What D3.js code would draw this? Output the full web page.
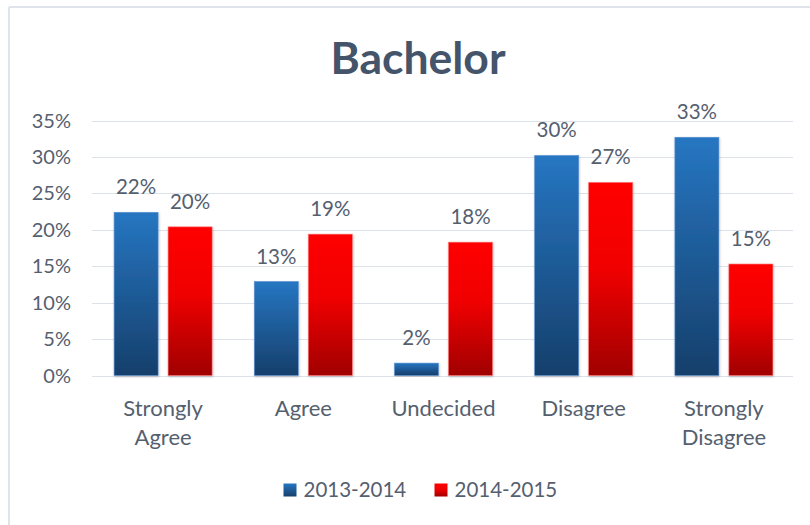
<!DOCTYPE html>
<html>
<head>
<meta charset="utf-8">
<script src="https://cdn.jsdelivr.net/npm/d3@7"></script>
<style>
  html, body { margin: 0; padding: 0; background: #fff; }
  svg { display: block; }
  text { font-family: Lato, "Open Sans", sans-serif; }
</style>
</head>
<body>
<script>
const categories = [["Strongly", "Agree"], ["Agree"], ["Undecided"], ["Disagree"], ["Strongly", "Disagree"]];
const series = ["2013-2014", "2014-2015"];
const values2013 = [22.4, 12.9, 1.7, 30.2, 32.7];
const values2014 = [20.4, 19.4, 18.3, 26.5, 15.3];
const labels2013 = ["22%", "13%", "2%", "30%", "33%"];
const labels2014 = ["20%", "19%", "18%", "27%", "15%"];
const yTicks = [0, 5, 10, 15, 20, 25, 30, 35];
const title = "Bachelor";

const W = 810, H = 525;
const textColor = "#55606f";
const margin = { left: 92, right: 17, top: 120.5, bottom: 149.5 };

const svg = d3.select("body").append("svg").attr("width", W).attr("height", H);

// gradients
const defs = svg.append("defs");
const gBlue = defs.append("linearGradient").attr("id", "gBlue").attr("x1", 0).attr("y1", 0).attr("x2", 0).attr("y2", 1);
gBlue.append("stop").attr("offset", "0%").attr("stop-color", "#2676c2");
gBlue.append("stop").attr("offset", "100%").attr("stop-color", "#163f6b");
const gRed = defs.append("linearGradient").attr("id", "gRed").attr("x1", 0).attr("y1", 0).attr("x2", 0).attr("y2", 1);
gRed.append("stop").attr("offset", "0%").attr("stop-color", "#ff0000");
gRed.append("stop").attr("offset", "45%").attr("stop-color", "#f00000");
gRed.append("stop").attr("offset", "100%").attr("stop-color", "#a00000");
const shadow = defs.append("filter").attr("id", "shadow").attr("x", "-20%").attr("y", "-5%").attr("width", "140%").attr("height", "115%");
shadow.append("feDropShadow").attr("dx", 0.5).attr("dy", 1).attr("stdDeviation", 1).attr("flood-color", "#000").attr("flood-opacity", 0.25);

// chart frame
svg.append("line").attr("x1", 9).attr("x2", W).attr("y1", 7).attr("y2", 7).attr("stroke", "#dfe3ea").attr("stroke-width", 2);
svg.append("line").attr("x1", 9).attr("x2", 9).attr("y1", 7).attr("y2", H).attr("stroke", "#dfe3ea").attr("stroke-width", 2);

const x = d3.scaleBand().domain(d3.range(categories.length)).range([margin.left, W - margin.right]).padding(0);
const y = d3.scaleLinear().domain([0, 35]).range([H - margin.bottom, margin.top]);

// title
svg.append("text").attr("x", 418).attr("y", 73.5).attr("text-anchor", "middle")
  .attr("font-size", 44.5).attr("font-weight", "bold").attr("fill", "#44546a").text(title);

// gridlines
svg.append("g").selectAll("line").data(yTicks).join("line")
  .attr("x1", margin.left).attr("x2", W - margin.right)
  .attr("y1", d => Math.round(y(d)) + 0.5).attr("y2", d => Math.round(y(d)) + 0.5)
  .attr("stroke", "#dde1e8").attr("stroke-width", 1);

// y tick labels
svg.append("g").selectAll("text").data(yTicks).join("text")
  .attr("x", 71).attr("y", d => y(d) + 7).attr("text-anchor", "end")
  .attr("font-size", 20).attr("fill", textColor).text(d => d + "%");

const barW = 44, gap = 10;
const bx = (i, s) => x(i) + x.bandwidth() / 2 - (barW * 2 + gap) / 2 + s * (barW + gap) + 1;

const data = [values2013, values2014];
const lab = [labels2013, labels2014];
const fills = ["url(#gBlue)", "url(#gRed)"];
const strokes = ["#5a8fcf", "#ff7070"];

data.forEach((vals, s) => {
  const g = svg.append("g");
  g.selectAll("rect").data(vals).join("rect")
    .attr("x", (d, i) => bx(i, s)).attr("width", barW)
    .attr("y", d => y(d)).attr("height", d => y(0) - y(d))
    .attr("fill", fills[s]).attr("stroke", strokes[s]).attr("stroke-width", 0.6)
    .attr("filter", "url(#shadow)");
  g.selectAll("text").data(vals).join("text")
    .attr("x", (d, i) => bx(i, s) + barW / 2).attr("y", d => y(d) - 18)
    .attr("text-anchor", "middle").attr("font-size", 20.5).attr("fill", textColor)
    .text((d, i) => lab[s][i]);
});

// category labels
const cat = svg.append("g").selectAll("text").data(categories).join("text")
  .attr("text-anchor", "middle").attr("font-size", 22).attr("fill", textColor);
cat.each(function(lines, i) {
  d3.select(this).selectAll("tspan").data(lines).join("tspan")
    .attr("x", x(i) + x.bandwidth() / 2 + 1).attr("y", (d, j) => 416 + j * 28.5).text(d => d);
});

// legend
const legendItems = [
  { name: series[0], fill: "url(#gBlue)", sx: 283.5 },
  { name: series[1], fill: "url(#gRed)", sx: 434.5 }
];
const lg = svg.append("g").selectAll("g").data(legendItems).join("g");
lg.append("rect").attr("x", d => d.sx).attr("y", 483.5).attr("width", 13).attr("height", 13).attr("fill", d => d.fill);
lg.append("text").attr("x", d => d.sx + 20).attr("y", 497).attr("font-size", 20.5).attr("fill", textColor).text(d => d.name);
</script>
</body>
</html>
